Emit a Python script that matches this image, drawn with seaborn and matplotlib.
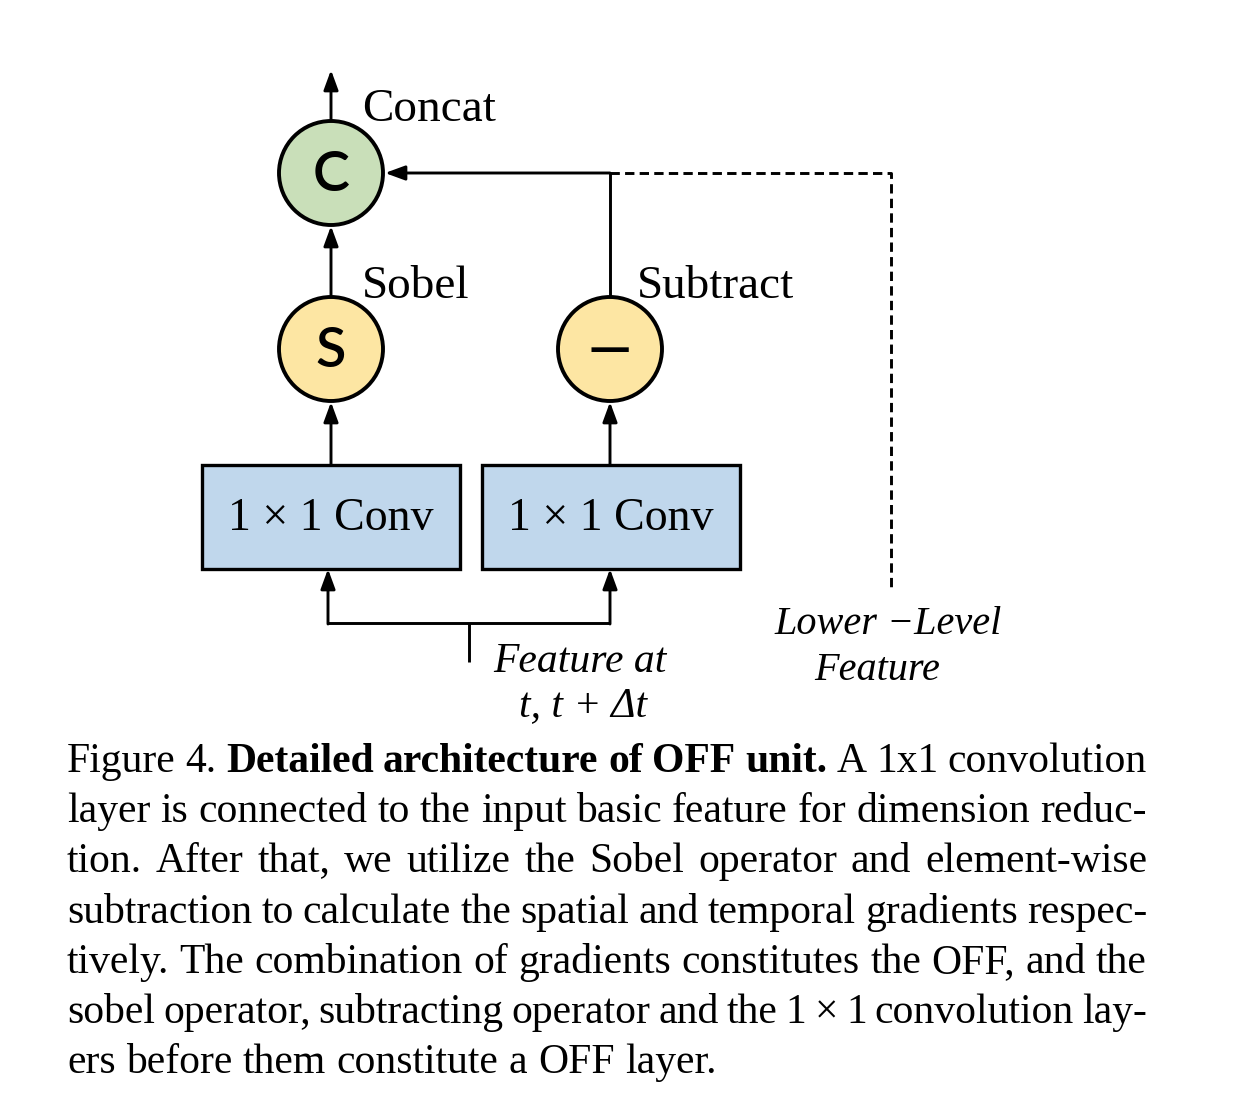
import matplotlib
matplotlib.use("Agg")
import matplotlib.pyplot as plt
import seaborn as sns
from matplotlib.patches import Circle, Rectangle

# diagram content
node_glyphs = ["C", "S", "—"]
node_labels = ["Concat", "Sobel", "Subtract"]
box_labels = ["1 × 1 Conv", "1 × 1 Conv"]
input_label = ["Feature at", "t, t + Δt"]
skip_label = ["Lower −Level", "Feature"]
caption_lines = [
    "Figure 4. **Detailed architecture of OFF unit.** A 1x1 convolution",
    "layer is connected to the input basic feature for dimension reduc-",
    "tion.  After that, we utilize the Sobel operator and element-wise",
    "subtraction to calculate the spatial and temporal gradients respec-",
    "tively. The combination of gradients constitutes the OFF, and the",
    "sobel operator, subtracting operator and the 1 × 1 convolution lay-",
    "ers before them constitute a OFF layer.",
]

# layout (pixel space)
node_xy = [(331, 173), (331, 349), (610, 349)]
node_r = 52
node_fill = ["#c9dfb9", "#fde6a3", "#fde6a3"]
box_x = [202, 482]
box_y, box_w, box_h = 465, 258, 104
box_fill = "#c0d7ec"

sns.set_theme(style="white")
plt.rcParams["font.family"] = ["Liberation Serif", "DejaVu Serif"]
plt.rcParams["text.color"] = "black"

fig = plt.figure(figsize=(12.52, 11.12), dpi=100)
ax = fig.add_axes([0, 0, 1, 1])
ax.set_xlim(0, 1252)
ax.set_ylim(1112, 0)
ax.axis("off")

LW = 2.1


def arrow(x0, y0, x1, y1):
    ax.annotate("", xy=(x1, y1), xytext=(x0, y0),
                arrowprops=dict(arrowstyle="-|>,head_length=0.6,head_width=0.22",
                                lw=LW, color="black", shrinkA=0, shrinkB=0,
                                mutation_scale=20))


def line(xs, ys, **kw):
    ax.plot(xs, ys, color="black", lw=LW, solid_capstyle="butt", **kw)


# nodes
for (x, y), g, fc in zip(node_xy, node_glyphs, node_fill):
    ax.add_patch(Circle((x, y), node_r, facecolor=fc, edgecolor="black", lw=2.8, zorder=3))
    ax.text(x, y + 2, g, ha="center", va="center", fontsize=40, fontweight="semibold",
            family=["Lato", "DejaVu Sans"], zorder=4)

label_pos = [(362, 110), (362, 287), (637, 287)]
for (x, y), t in zip(label_pos, node_labels):
    ax.text(x, y, t, ha="left", va="center", fontsize=34)

for bx, t in zip(box_x, box_labels):
    ax.add_patch(Rectangle((bx, box_y), box_w, box_h, facecolor=box_fill,
                           edgecolor="black", lw=2.4, zorder=3))
    ax.text(bx + box_w / 2, box_y + box_h / 2 + 2, t, ha="center", va="center",
            fontsize=33, zorder=4)

# connections
arrow(331, 120, 331, 70)
arrow(331, 296, 331, 226)
arrow(331, 465, 331, 402)
arrow(610, 465, 610, 402)
line([610, 610], [296, 173])
arrow(610, 173, 385, 173)
ax.plot([610, 891, 891], [173, 173, 588], color="black", lw=LW,
        linestyle=(0, (3.2, 1.8)))
line([328, 610], [623, 623])
arrow(328, 624, 328, 569)
arrow(610, 624, 610, 569)
line([469, 469], [623, 662])

ax.text(493, 662, input_label[0], ha="left", va="center", fontsize=30, style="italic")
ax.text(583, 706, input_label[1], ha="center", va="center", fontsize=30, style="italic")
ax.text(888, 625, skip_label[0], ha="center", va="center", fontsize=29, style="italic")
ax.text(877, 670, skip_label[1], ha="center", va="center", fontsize=29, style="italic")

# caption, justified
fig.canvas.draw()
renderer = fig.canvas.get_renderer()
left, right = 67, 1147
base0, lead = 772, 50.2
cap_fs = 30
for i, ln in enumerate(caption_lines):
    words = []
    for k, seg in enumerate(ln.split("**")):
        for w in seg.split():
            words.append((w, "bold" if k % 2 else "normal"))
    y = base0 + i * lead
    objs = [ax.text(0, y, w, fontsize=cap_fs, fontweight=wt, ha="left", va="baseline")
            for w, wt in words]
    widths = [o.get_window_extent(renderer).width for o in objs]
    if i < len(caption_lines) - 1:
        gap = (right - left - sum(widths)) / (len(words) - 1)
    else:
        gap = cap_fs * 100 / 72 * 0.25
    x = left
    for o, w in zip(objs, widths):
        o.set_x(x)
        x += w + gap

fig.savefig("out.png", dpi=100)
